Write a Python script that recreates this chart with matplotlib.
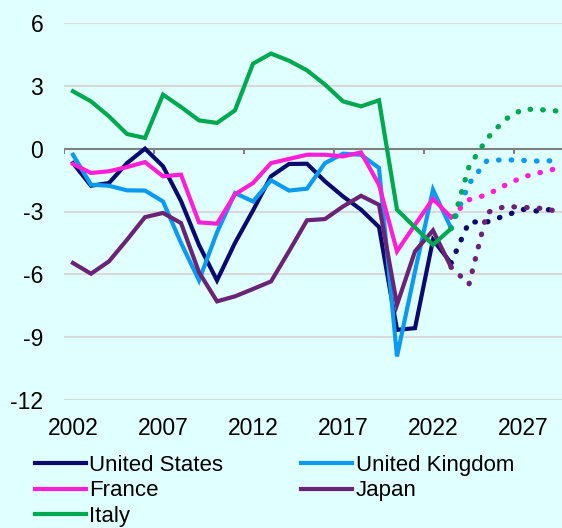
import numpy as np
import matplotlib
matplotlib.use("Agg")
from matplotlib import pyplot as plt

plt.rcParams['font.family'] = ['Liberation Sans', 'DejaVu Sans']

years = np.arange(2002, 2024)
fc_years = np.arange(2023, 2030)

# actuals 2002-2023
us = [-0.69, -1.77, -1.64, -0.69, 0.0, -0.84, -2.5, -4.6, -6.29, -4.5, -2.95,
      -1.32, -0.73, -0.72, -1.56, -2.28, -2.91, -3.74, -8.65, -8.57, -4.35, -5.46]
uk = [-0.29, -1.72, -1.77, -1.99, -2.0, -2.52, -4.5, -6.29, -4.0, -2.12, -2.52,
      -1.51, -2.0, -1.91, -0.69, -0.24, -0.29, -0.92, -9.92, -5.86, -1.96, -3.79]
france = [-0.73, -1.16, -1.08, -0.88, -0.64, -1.32, -1.24, -3.52, -3.58, -2.18, -1.64,
          -0.69, -0.49, -0.29, -0.29, -0.37, -0.18, -1.72, -4.9, -3.63, -2.4, -3.27]
japan = [-5.46, -5.97, -5.38, -4.35, -3.27, -3.07, -3.55, -5.9, -7.29, -7.05, -6.7,
         -6.34, -4.9, -3.42, -3.36, -2.76, -2.25, -2.68, -7.45, -4.9, -3.9, -5.65]
italy = [2.74, 2.26, 1.54, 0.70, 0.51, 2.58, 1.99, 1.35, 1.23, 1.83, 4.06,
         4.54, 4.2, 3.74, 3.06, 2.26, 2.02, 2.31, -2.91, -3.76, -4.59, -3.82]

# forecasts 2024-2029
us_fc = [-3.5, -3.5, -3.2, -2.9, -3.0, -2.8]
uk_fc = [-1.67, -0.57, -0.53, -0.56, -0.6, -0.56]
france_fc = [-2.44, -2.2, -1.75, -1.35, -1.13, -0.92]
japan_fc = [-6.47, -3.05, -2.76, -2.8, -2.85, -3.0]
italy_fc = [-0.86, 0.48, 1.39, 1.89, 1.86, 1.79]

names = ['United States', 'United Kingdom', 'France', 'Japan', 'Italy']
colors = ['#0A0A6E', '#0A9BF0', '#FF1DD8', '#6B2376', '#00A84F']
actuals = [us, uk, france, japan, italy]
forecasts = [us_fc, uk_fc, france_fc, japan_fc, italy_fc]

bg = '#E0FFFF'
fig = plt.figure(figsize=(5.62, 5.28), dpi=100, facecolor=bg)
ax = fig.add_axes([64/562, 1-400/528, 504/562, 377/528], facecolor=bg)

for y in [-12, -9, -6, -3, 3, 6]:
    ax.axhline(y, color='#D9D9D9', lw=1.5, zorder=1)
ax.axhline(0, color='#808080', lw=1.5, zorder=2)
ax.vlines(np.arange(2001.5, 2029.5, 5), -0.25, 0, color='#808080', lw=1.5, zorder=2)

handles = {}
for name, c, a, f in zip(names, colors, actuals, forecasts):
    h, = ax.plot(years, a, color=c, lw=3.0, solid_joinstyle='miter', zorder=3)
    ax.plot(fc_years, [a[-1]] + f, color=c, lw=3.8, linestyle=(0, (0.1, 2.3)),
            dash_capstyle='round', zorder=3)
    handles[name] = h

ax.set_xlim(2001.5, 2029.5)
ax.set_ylim(-12, 6)
ax.set_yticks([-12, -9, -6, -3, 0, 3, 6])
ax.set_yticklabels(['-12', '-9', '-6', '-3', '0', '3', '6'])
ax.set_xticks(np.arange(2002, 2030, 5))
ax.tick_params(axis='both', length=0, labelsize=16.5, colors='black')
ax.tick_params(axis='y', pad=15)
ax.tick_params(axis='x', pad=12)
for s in ax.spines.values():
    s.set_visible(False)

order = ['United States', 'France', 'Italy', 'United Kingdom', 'Japan']
leg = fig.legend([handles[n] for n in order], order, ncol=2, loc='upper left',
                 bbox_to_anchor=(35/562, 1-455/528), frameon=False, fontsize=16,
                 handlelength=2.3, handletextpad=0.15, columnspacing=3.5,
                 labelspacing=0.2, borderaxespad=0, borderpad=0)

fig.savefig('out.png', dpi=100, facecolor=bg)
